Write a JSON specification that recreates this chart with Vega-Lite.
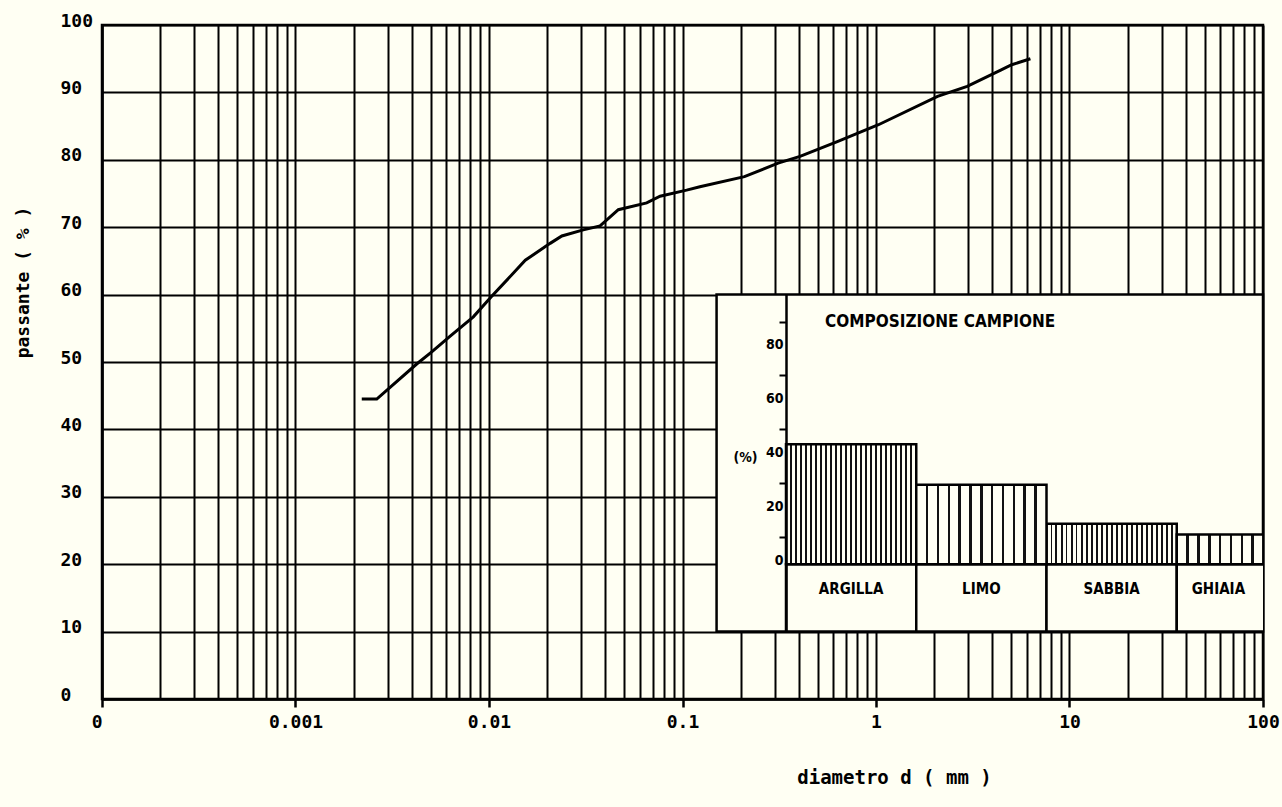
{
  "$schema": "https://vega.github.io/schema/vega-lite/v6.json",
  "width": 1161,
  "height": 674,
  "autosize": {"type": "none"},
  "padding": {"left": 102, "top": 25, "right": 19, "bottom": 108},
  "background": "#fffff3",
  "config": {"view": {"stroke": "black", "strokeWidth": 2.5}, "font": "DejaVu Sans Mono"},
  "datasets": {
    "curve": [
      {"d": 0.0022, "p": 44.5}, {"d": 0.00263, "p": 44.5}, {"d": 0.00423, "p": 49.7}, {"d": 0.00506, "p": 51.5},
      {"d": 0.00628, "p": 53.8}, {"d": 0.0083, "p": 56.7}, {"d": 0.0103, "p": 59.7}, {"d": 0.0154, "p": 65.1},
      {"d": 0.0207, "p": 67.6}, {"d": 0.0238, "p": 68.7}, {"d": 0.0307, "p": 69.6}, {"d": 0.0375, "p": 70.2},
      {"d": 0.0466, "p": 72.6}, {"d": 0.0653, "p": 73.6}, {"d": 0.0766, "p": 74.6}, {"d": 0.105, "p": 75.5},
      {"d": 0.123, "p": 76.0}, {"d": 0.209, "p": 77.5}, {"d": 0.312, "p": 79.5}, {"d": 0.405, "p": 80.5},
      {"d": 0.631, "p": 82.7}, {"d": 1.03, "p": 85.2}, {"d": 2.08, "p": 89.4}, {"d": 2.96, "p": 90.9},
      {"d": 4.41, "p": 93.3}, {"d": 5.03, "p": 94.1}, {"d": 6.28, "p": 95.0}
    ],
    "box": [{"x1": 0.15, "x2": 100, "y1": 10, "y2": 60}],
    "comp": [
      {"cls": "ARGILLA", "pct": 44.5},
      {"cls": "LIMO", "pct": 29.5},
      {"cls": "SABBIA", "pct": 15},
      {"cls": "GHIAIA", "pct": 11}
    ],
    "ttl": [{"t": "COMPOSIZIONE CAMPIONE"}]
  },
  "layer": [
    {
      "layer": [
        {
          "data": {"name": "box"},
          "mark": {"type": "rect", "fill": "#fffff3", "stroke": "black", "strokeWidth": 2.5},
          "encoding": {
            "x": {"field": "x1", "type": "quantitative", "scale": {"type": "log", "domain": [0.0001, 100], "nice": false}},
            "x2": {"field": "x2"},
            "y": {"field": "y1", "type": "quantitative", "scale": {"domain": [0, 100], "nice": false}},
            "y2": {"field": "y2"}
          }
        },
        {
          "data": {"name": "curve"},
          "mark": {"type": "line", "stroke": "black", "strokeWidth": 3},
          "encoding": {
            "x": {
              "field": "d", "type": "quantitative",
              "scale": {"type": "log", "domain": [0.0001, 100], "nice": false},
              "axis": {
                "values": [0.0001,0.0002,0.0003,0.0004,0.0005,0.0006,0.0007,0.0008,0.0009,
                           0.001,0.002,0.003,0.004,0.005,0.006,0.007,0.008,0.009,
                           0.01,0.02,0.03,0.04,0.05,0.06,0.07,0.08,0.09,
                           0.1,0.2,0.3,0.4,0.5,0.6,0.7,0.8,0.9,
                           1,2,3,4,5,6,7,8,9,
                           10,20,30,40,50,60,70,80,90,100],
                "title": "diametro  d ( mm )",
                "titleX": 792, "titleY": 78, "titleAlign": "center", "titleBaseline": "middle",
                "titleFont": "DejaVu Sans Mono", "titleFontSize": 19, "titleFontWeight": "bold", "titleColor": "black",
                "labelExpr": "datum.value < 0.00015 ? '0' : (abs(log(datum.value)/LN10 - round(log(datum.value)/LN10)) < 0.000001 ? '' + datum.value : '')",
                "labelFont": "DejaVu Sans Mono", "labelFontSize": 18, "labelFontWeight": "bold", "labelColor": "black",
                "labelAlign": {"condition": {"test": "datum.value < 0.00015", "value": "right"}, "value": "center"},
                "labelPadding": 6, "labelFlush": false, "labelOverlap": false, "labelBound": false,
                "tickSize": 8, "tickWidth": 2.5, "tickColor": "black",
                "tickOpacity": {"condition": {"test": "abs(log(datum.value)/LN10 - round(log(datum.value)/LN10)) < 0.000001", "value": 1}, "value": 0},
                "grid": true, "gridColor": "black", "gridWidth": 2, "gridOpacity": 1,
                "domainColor": "black", "domainWidth": 2.5
              }
            },
            "y": {
              "field": "p", "type": "quantitative",
              "scale": {"domain": [0, 100], "nice": false},
              "axis": {
                "values": [0, 10, 20, 30, 40, 50, 60, 70, 80, 90, 100],
                "title": "passante ( % )",
                "titleX": -79, "titleY": 257, "titleAngle": 270, "titleAlign": "center", "titleBaseline": "middle",
                "titleFont": "DejaVu Sans Mono", "titleFontSize": 18, "titleFontWeight": "bold", "titleColor": "black",
                "labelFont": "DejaVu Sans Mono", "labelFontSize": 18, "labelFontWeight": "bold", "labelColor": "black",
                "labelAlign": "left", "labelBaseline": "middle", "labelOffset": -4, "labelPadding": 42,
                "labelFlush": false, "labelOverlap": false, "labelBound": false,
                "tickSize": 0,
                "grid": true, "gridColor": "black", "gridWidth": 2, "gridOpacity": 1,
                "domainColor": "black", "domainWidth": 2.5
              }
            }
          }
        }
      ]
    },
    {
      "data": {"name": "comp"},
      "layer": [
        {
          "mark": {"type": "bar", "fill": "#fffff3", "stroke": "black", "strokeWidth": 2.5, "clip": true},
          "encoding": {
            "x": {"field": "cls", "type": "nominal", "sort": ["ARGILLA", "LIMO", "SABBIA", "GHIAIA"],
                  "scale": {"type": "band", "domain": ["ARGILLA", "LIMO", "SABBIA", "GHIAIA"], "range": [684, 1205], "paddingInner": 0, "paddingOuter": 0},
                  "axis": null},
            "y": {"datum": -25, "type": "quantitative",
                  "scale": {"domain": [-25, 100], "range": [606.6, 269.6], "nice": false, "zero": false},
                  "axis": {
                    "orient": "left", "offset": -684, "zindex": 1,
                    "values": [0, 10, 20, 30, 40, 50, 60, 70, 80, 90],
                    "title": "(%)", "titleAngle": 0, "titleX": -41, "titleY": 432, "titleAlign": "center", "titleBaseline": "middle",
                    "titleFont": "DejaVu Sans Condensed, Liberation Sans, sans-serif", "titleFontSize": 14, "titleFontWeight": "bold", "titleColor": "black",
                    "domainColor": "black", "domainWidth": 2.5,
                    "tickColor": "black", "tickWidth": 2, "tickSize": 7,
                    "tickOpacity": {"condition": {"test": "datum.value % 20 == 10", "value": 1}, "value": 0},
                    "labelExpr": "datum.value % 20 == 0 ? datum.label : ''",
                    "labelAlign": "right", "labelBaseline": "alphabetic", "labelPadding": -4,
                    "labelFont": "DejaVu Sans Condensed, Liberation Sans, sans-serif", "labelFontSize": 14, "labelFontWeight": "bold", "labelColor": "black",
                    "labelOverlap": false, "labelFlush": false, "labelBound": false,
                    "grid": false
                  }},
            "y2": {"datum": 0}
          }
        },
        {
          "transform": [{"filter": {"field": "cls", "oneOf": ["ARGILLA", "SABBIA"]}}],
          "mark": {
            "type": "bar", "stroke": "black", "strokeWidth": 2.5, "clip": true,
            "fill": {"gradient": "linear", "x1": 0, "x2": 1, "y1": 0, "y2": 0, "stops": [
              {"offset": 0, "color": "#fffff3"},
              {"offset": 0.031, "color": "#fffff3"}, {"offset": 0.031, "color": "#111"}, {"offset": 0.046, "color": "#111"}, {"offset": 0.046, "color": "#fffff3"},
              {"offset": 0.069, "color": "#fffff3"}, {"offset": 0.069, "color": "#111"}, {"offset": 0.084, "color": "#111"}, {"offset": 0.084, "color": "#fffff3"},
              {"offset": 0.108, "color": "#fffff3"}, {"offset": 0.108, "color": "#111"}, {"offset": 0.123, "color": "#111"}, {"offset": 0.123, "color": "#fffff3"},
              {"offset": 0.146, "color": "#fffff3"}, {"offset": 0.146, "color": "#111"}, {"offset": 0.161, "color": "#111"}, {"offset": 0.161, "color": "#fffff3"},
              {"offset": 0.185, "color": "#fffff3"}, {"offset": 0.185, "color": "#111"}, {"offset": 0.200, "color": "#111"}, {"offset": 0.200, "color": "#fffff3"},
              {"offset": 0.223, "color": "#fffff3"}, {"offset": 0.223, "color": "#111"}, {"offset": 0.238, "color": "#111"}, {"offset": 0.238, "color": "#fffff3"},
              {"offset": 0.262, "color": "#fffff3"}, {"offset": 0.262, "color": "#111"}, {"offset": 0.277, "color": "#111"}, {"offset": 0.277, "color": "#fffff3"},
              {"offset": 0.300, "color": "#fffff3"}, {"offset": 0.300, "color": "#111"}, {"offset": 0.315, "color": "#111"}, {"offset": 0.315, "color": "#fffff3"},
              {"offset": 0.339, "color": "#fffff3"}, {"offset": 0.339, "color": "#111"}, {"offset": 0.354, "color": "#111"}, {"offset": 0.354, "color": "#fffff3"},
              {"offset": 0.377, "color": "#fffff3"}, {"offset": 0.377, "color": "#111"}, {"offset": 0.392, "color": "#111"}, {"offset": 0.392, "color": "#fffff3"},
              {"offset": 0.416, "color": "#fffff3"}, {"offset": 0.416, "color": "#111"}, {"offset": 0.431, "color": "#111"}, {"offset": 0.431, "color": "#fffff3"},
              {"offset": 0.454, "color": "#fffff3"}, {"offset": 0.454, "color": "#111"}, {"offset": 0.469, "color": "#111"}, {"offset": 0.469, "color": "#fffff3"},
              {"offset": 0.4925, "color": "#fffff3"}, {"offset": 0.4925, "color": "#111"}, {"offset": 0.5075, "color": "#111"}, {"offset": 0.5075, "color": "#fffff3"},
              {"offset": 0.531, "color": "#fffff3"}, {"offset": 0.531, "color": "#111"}, {"offset": 0.546, "color": "#111"}, {"offset": 0.546, "color": "#fffff3"},
              {"offset": 0.569, "color": "#fffff3"}, {"offset": 0.569, "color": "#111"}, {"offset": 0.584, "color": "#111"}, {"offset": 0.584, "color": "#fffff3"},
              {"offset": 0.608, "color": "#fffff3"}, {"offset": 0.608, "color": "#111"}, {"offset": 0.623, "color": "#111"}, {"offset": 0.623, "color": "#fffff3"},
              {"offset": 0.646, "color": "#fffff3"}, {"offset": 0.646, "color": "#111"}, {"offset": 0.661, "color": "#111"}, {"offset": 0.661, "color": "#fffff3"},
              {"offset": 0.685, "color": "#fffff3"}, {"offset": 0.685, "color": "#111"}, {"offset": 0.700, "color": "#111"}, {"offset": 0.700, "color": "#fffff3"},
              {"offset": 0.723, "color": "#fffff3"}, {"offset": 0.723, "color": "#111"}, {"offset": 0.738, "color": "#111"}, {"offset": 0.738, "color": "#fffff3"},
              {"offset": 0.762, "color": "#fffff3"}, {"offset": 0.762, "color": "#111"}, {"offset": 0.777, "color": "#111"}, {"offset": 0.777, "color": "#fffff3"},
              {"offset": 0.800, "color": "#fffff3"}, {"offset": 0.800, "color": "#111"}, {"offset": 0.815, "color": "#111"}, {"offset": 0.815, "color": "#fffff3"},
              {"offset": 0.839, "color": "#fffff3"}, {"offset": 0.839, "color": "#111"}, {"offset": 0.854, "color": "#111"}, {"offset": 0.854, "color": "#fffff3"},
              {"offset": 0.877, "color": "#fffff3"}, {"offset": 0.877, "color": "#111"}, {"offset": 0.892, "color": "#111"}, {"offset": 0.892, "color": "#fffff3"},
              {"offset": 0.916, "color": "#fffff3"}, {"offset": 0.916, "color": "#111"}, {"offset": 0.931, "color": "#111"}, {"offset": 0.931, "color": "#fffff3"},
              {"offset": 0.954, "color": "#fffff3"}, {"offset": 0.954, "color": "#111"}, {"offset": 0.969, "color": "#111"}, {"offset": 0.969, "color": "#fffff3"},
              {"offset": 1, "color": "#fffff3"}
            ]}
          },
          "encoding": {
            "x": {"field": "cls", "type": "nominal", "sort": ["ARGILLA", "LIMO", "SABBIA", "GHIAIA"],
                  "scale": {"type": "band", "domain": ["ARGILLA", "LIMO", "SABBIA", "GHIAIA"], "range": [684, 1205], "paddingInner": 0, "paddingOuter": 0},
                  "axis": null},
            "y": {"field": "pct", "type": "quantitative", "scale": {"domain": [-25, 100], "range": [606.6, 269.6], "nice": false, "zero": false}},
            "y2": {"datum": 0}
          }
        },
        {
          "transform": [{"filter": {"field": "cls", "oneOf": ["LIMO", "GHIAIA"]}}],
          "mark": {
            "type": "bar", "stroke": "black", "strokeWidth": 2.5, "clip": true,
            "fill": {"gradient": "linear", "x1": 0, "x2": 1, "y1": 0, "y2": 0, "stops": [
              {"offset": 0, "color": "#fffff3"},
              {"offset": 0.073, "color": "#fffff3"}, {"offset": 0.073, "color": "#111"}, {"offset": 0.093, "color": "#111"}, {"offset": 0.093, "color": "#fffff3"},
              {"offset": 0.157, "color": "#fffff3"}, {"offset": 0.157, "color": "#111"}, {"offset": 0.177, "color": "#111"}, {"offset": 0.177, "color": "#fffff3"},
              {"offset": 0.240, "color": "#fffff3"}, {"offset": 0.240, "color": "#111"}, {"offset": 0.260, "color": "#111"}, {"offset": 0.260, "color": "#fffff3"},
              {"offset": 0.323, "color": "#fffff3"}, {"offset": 0.323, "color": "#111"}, {"offset": 0.343, "color": "#111"}, {"offset": 0.343, "color": "#fffff3"},
              {"offset": 0.407, "color": "#fffff3"}, {"offset": 0.407, "color": "#111"}, {"offset": 0.427, "color": "#111"}, {"offset": 0.427, "color": "#fffff3"},
              {"offset": 0.490, "color": "#fffff3"}, {"offset": 0.490, "color": "#111"}, {"offset": 0.510, "color": "#111"}, {"offset": 0.510, "color": "#fffff3"},
              {"offset": 0.573, "color": "#fffff3"}, {"offset": 0.573, "color": "#111"}, {"offset": 0.593, "color": "#111"}, {"offset": 0.593, "color": "#fffff3"},
              {"offset": 0.657, "color": "#fffff3"}, {"offset": 0.657, "color": "#111"}, {"offset": 0.677, "color": "#111"}, {"offset": 0.677, "color": "#fffff3"},
              {"offset": 0.740, "color": "#fffff3"}, {"offset": 0.740, "color": "#111"}, {"offset": 0.760, "color": "#111"}, {"offset": 0.760, "color": "#fffff3"},
              {"offset": 0.823, "color": "#fffff3"}, {"offset": 0.823, "color": "#111"}, {"offset": 0.843, "color": "#111"}, {"offset": 0.843, "color": "#fffff3"},
              {"offset": 0.907, "color": "#fffff3"}, {"offset": 0.907, "color": "#111"}, {"offset": 0.927, "color": "#111"}, {"offset": 0.927, "color": "#fffff3"},
              {"offset": 1, "color": "#fffff3"}
            ]}
          },
          "encoding": {
            "x": {"field": "cls", "type": "nominal", "sort": ["ARGILLA", "LIMO", "SABBIA", "GHIAIA"],
                  "scale": {"type": "band", "domain": ["ARGILLA", "LIMO", "SABBIA", "GHIAIA"], "range": [684, 1205], "paddingInner": 0, "paddingOuter": 0},
                  "axis": null},
            "y": {"field": "pct", "type": "quantitative", "scale": {"domain": [-25, 100], "range": [606.6, 269.6], "nice": false, "zero": false}},
            "y2": {"datum": 0}
          }
        },
        {
          "transform": [{"filter": {"not": {"field": "cls", "equal": "GHIAIA"}}}],
          "mark": {"type": "text", "font": "DejaVu Sans Condensed, Liberation Sans, sans-serif", "fontSize": 15, "fontWeight": "bold", "color": "black", "baseline": "middle", "align": "center"},
          "encoding": {
            "x": {"field": "cls", "type": "nominal", "sort": ["ARGILLA", "LIMO", "SABBIA", "GHIAIA"],
                  "scale": {"type": "band", "domain": ["ARGILLA", "LIMO", "SABBIA", "GHIAIA"], "range": [684, 1205], "paddingInner": 0, "paddingOuter": 0},
                  "axis": null},
            "y": {"datum": -9.3, "type": "quantitative", "scale": {"domain": [-25, 100], "range": [606.6, 269.6], "nice": false, "zero": false}},
            "text": {"field": "cls"}
          }
        },
        {
          "transform": [{"filter": {"field": "cls", "equal": "GHIAIA"}}],
          "mark": {"type": "text", "font": "DejaVu Sans Condensed, Liberation Sans, sans-serif", "fontSize": 15, "fontWeight": "bold", "color": "black", "baseline": "middle", "align": "center"},
          "encoding": {
            "x": {"field": "cls", "type": "nominal", "bandPosition": 0.32, "sort": ["ARGILLA", "LIMO", "SABBIA", "GHIAIA"],
                  "scale": {"type": "band", "domain": ["ARGILLA", "LIMO", "SABBIA", "GHIAIA"], "range": [684, 1205], "paddingInner": 0, "paddingOuter": 0},
                  "axis": null},
            "y": {"datum": -9.3, "type": "quantitative", "scale": {"domain": [-25, 100], "range": [606.6, 269.6], "nice": false, "zero": false}},
            "text": {"field": "cls"}
          }
        },
        {
          "data": {"name": "ttl"},
          "mark": {"type": "text", "font": "DejaVu Sans Condensed, Liberation Sans, sans-serif", "fontSize": 17, "fontWeight": "bold", "color": "black", "baseline": "middle", "align": "left"},
          "encoding": {
            "x": {"datum": "ARGILLA", "type": "nominal", "bandPosition": 0.3,
                  "scale": {"type": "band", "domain": ["ARGILLA", "LIMO", "SABBIA", "GHIAIA"], "range": [684, 1205], "paddingInner": 0, "paddingOuter": 0},
                  "axis": null},
            "y": {"datum": 90, "type": "quantitative", "scale": {"domain": [-25, 100], "range": [606.6, 269.6], "nice": false, "zero": false}},
            "text": {"field": "t"}
          }
        }
      ]
    }
  ],
  "resolve": {"scale": {"x": "independent", "y": "independent"}, "axis": {"x": "independent", "y": "independent"}}
}
